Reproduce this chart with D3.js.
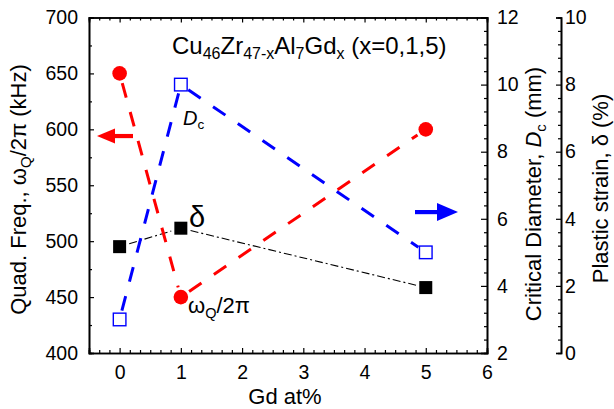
<!DOCTYPE html>
<html><head><meta charset="utf-8">
<script src="https://cdn.jsdelivr.net/npm/d3@7"></script>
<style>
html,body{margin:0;padding:0;background:#fff;}
svg{display:block;font-family:"Liberation Sans",Arial,sans-serif;}
</style></head>
<body>
<svg id="c" width="614" height="409"></svg>
<script>
// ---- data ----
const gd = [0, 1, 5];
const omegaQ = [650, 450, 600];      // kHz, left axis
const dc = [3, 10, 5];               // mm, Dc axis
const delta = [3.17, 3.72, 1.95];    // %, plastic strain axis
const xTicks = [0, 1, 2, 3, 4, 5, 6];
const yLeftTicks = [400, 450, 500, 550, 600, 650, 700];
const yDcTicks = [2, 4, 6, 8, 10, 12];
const yDeltaTicks = [0, 2, 4, 6, 8, 10];

const svg = d3.select("#c");
const L = 89, R = 487, T = 17.5, B = 353, A3 = 561;

const x = d3.scaleLinear().domain([-0.5, 6]).range([L, R]);
const yL = d3.scaleLinear().domain([400, 700]).range([B, T]);
const yD = d3.scaleLinear().domain([2, 12]).range([B, T]);
const yS = d3.scaleLinear().domain([0, 10]).range([B, T]);

const fs = 19.5;
const font = "Liberation Sans, Arial, sans-serif";
const minor = (a, b, step) => d3.range(Math.round((b - a) / step) + 1).map(i => a + i * step);
const xMinor = minor(-0.5, 6, 1/6).filter(v => Math.abs(v - Math.round(v)) > 1e-6);
const evenOff = v => Math.abs(v / 2 - Math.round(v / 2)) > 1e-6;

// Bottom axis (ticks inward)
svg.append("g").attr("transform", `translate(0,${B})`)
  .call(d3.axisBottom(x).tickValues(xTicks).tickSize(-5).tickPadding(12).tickFormat(d3.format("d")));
svg.append("g").attr("transform", `translate(0,${B})`)
  .call(d3.axisBottom(x).tickValues(xMinor).tickSize(-3).tickFormat(""));
// Top axis
svg.append("g").attr("transform", `translate(0,${T})`)
  .call(d3.axisTop(x).tickValues(xTicks).tickSize(-5).tickFormat(""));
svg.append("g").attr("transform", `translate(0,${T})`)
  .call(d3.axisTop(x).tickValues(xMinor).tickSize(-3).tickFormat(""));
// Left axis
svg.append("g").attr("transform", `translate(${L},0)`)
  .call(d3.axisLeft(yL).tickValues(yLeftTicks).tickSize(-5).tickPadding(11).tickFormat(d3.format("d")));
svg.append("g").attr("transform", `translate(${L},0)`)
  .call(d3.axisLeft(yL).tickValues([425, 475, 525, 575, 625, 675]).tickSize(-3).tickFormat(""));
// Right axis (Dc)
svg.append("g").attr("transform", `translate(${R},0)`)
  .call(d3.axisRight(yD).tickValues(yDcTicks).tickSize(-6).tickPadding(10).tickFormat(d3.format("d")));
svg.append("g").attr("transform", `translate(${R},0)`)
  .call(d3.axisRight(yD).tickValues(minor(2, 12, 0.4).filter(evenOff)).tickSize(-3).tickFormat(""));
// Third axis (delta)
svg.append("g").attr("transform", `translate(${A3},0)`)
  .call(d3.axisRight(yS).tickValues(yDeltaTicks).tickSize(-5).tickPadding(4).tickFormat(d3.format("d")));
svg.append("g").attr("transform", `translate(${A3},0)`)
  .call(d3.axisRight(yS).tickValues(minor(0, 10, 0.4).filter(evenOff)).tickSize(-3).tickFormat(""));

svg.selectAll(".domain").attr("stroke", "#000").attr("stroke-width", 1.6);
svg.selectAll(".tick line").attr("stroke", "#000").attr("stroke-width", 1.2);
svg.selectAll(".tick text").attr("font-size", fs).attr("fill", "#000").attr("font-family", font);

// ---- connecting segments with gaps to symbols ----
function segs(xs, ys, xsc, ysc, gap) {
  const pts = xs.map((v, i) => [xsc(v), ysc(ys[i])]);
  const out = [];
  for (let i = 0; i < pts.length - 1; i++) {
    const [x0, y0] = pts[i], [x1, y1] = pts[i + 1];
    const dx = x1 - x0, dy = y1 - y0, len = Math.hypot(dx, dy);
    const ux = dx / len, uy = dy / len;
    out.push([[x0 + ux * gap, y0 + uy * gap], [x1 - ux * gap, y1 - uy * gap]]);
  }
  return out;
}
const lineGen = d3.line();
function drawSegs(s, color, w, dash) {
  svg.append("g").selectAll("path").data(s).join("path")
    .attr("d", d => lineGen(d)).attr("fill", "none")
    .attr("stroke", color).attr("stroke-width", w).attr("stroke-dasharray", dash);
}
drawSegs(segs(gd, delta, x, yS, 10), "#000", 1.1, "8,3,2,3");
drawSegs(segs(gd, omegaQ, x, yL, 10), "#ff0000", 3, "15,15");
drawSegs(segs(gd, dc, x, yD, 9), "#0000ff", 3, "15,15");

// ---- markers ----
svg.append("g").selectAll("circle").data(gd).join("circle")
  .attr("cx", d => x(d)).attr("cy", (d, i) => yL(omegaQ[i])).attr("r", 7.3).attr("fill", "#ff0000");
svg.append("g").selectAll("rect").data(gd).join("rect")
  .attr("x", d => x(d) - 6.3).attr("y", (d, i) => yD(dc[i]) - 6.3)
  .attr("width", 12.6).attr("height", 12.6).attr("fill", "#fff")
  .attr("stroke", "#0000ff").attr("stroke-width", 1.4);
svg.append("g").selectAll("rect").data(gd).join("rect")
  .attr("x", d => x(d) - 6.5).attr("y", (d, i) => yS(delta[i]) - 6.5)
  .attr("width", 13).attr("height", 13).attr("fill", "#000");

// ---- arrows ----
function arrow(x0, x1, y, color, headLen, headHalf) {
  const dir = Math.sign(x1 - x0);
  const xb = x1 - dir * headLen;
  svg.append("line").attr("x1", x0).attr("x2", xb).attr("y1", y).attr("y2", y)
    .attr("stroke", color).attr("stroke-width", 4.2);
  svg.append("path").attr("d", `M${x1},${y}L${xb},${y - headHalf}L${xb},${y + headHalf}Z`).attr("fill", color);
}
arrow(133, 97, yL(594), "#ff0000", 18, 7.5);
arrow(415, 458, yD(6.2), "#0000ff", 21, 9);

// ---- rich text helper (subscripts / italics) ----
function rich(sel, parts, subSize, shift) {
  let cur = 0;
  parts.forEach(p => {
    const t = sel.append("tspan").text(p.t);
    const target = p.sub ? shift : 0;
    if (target !== cur) { t.attr("dy", target - cur); cur = target; }
    if (p.sub) t.attr("font-size", subSize);
    if (p.it) t.attr("font-style", "italic");
  });
}

// title
const title = svg.append("text").attr("x", 172).attr("y", 54).attr("font-size", 24).attr("font-family", font);
rich(title, [{t: "Cu"}, {t: "46", sub: 1}, {t: "Zr"}, {t: "47-x", sub: 1}, {t: "Al"}, {t: "7", sub: 1},
  {t: "Gd"}, {t: "x", sub: 1}, {t: " (x=0,1,5)"}], 16, 5);

// Dc label
const dcl = svg.append("text").attr("x", 183).attr("y", 125).attr("font-size", 20).attr("font-family", font);
rich(dcl, [{t: "D", it: 1}, {t: "c", sub: 1}], 13.5, 4);

// delta label
svg.append("text").attr("x", 189).attr("y", 226.5).attr("font-size", 29).attr("font-family", font).text("δ");

// omega label
const oml = svg.append("text").attr("x", 188).attr("y", 313).attr("font-size", 22).attr("font-family", font);
rich(oml, [{t: "ω"}, {t: "Q", sub: 1}, {t: "/2π"}], 14.5, 5);

// axis titles
svg.append("text").attr("x", 285).attr("y", 404).attr("text-anchor", "middle")
  .attr("font-size", 22).attr("font-family", font).text("Gd at%");

const yt = svg.append("text").attr("transform", `translate(26,189.5) rotate(-90)`).attr("text-anchor", "middle")
  .attr("font-size", 22).attr("font-family", font);
rich(yt, [{t: "Quad. Freq., ω"}, {t: "Q", sub: 1}, {t: "/2π (kHz)"}], 15, 5);

const dt = svg.append("text").attr("transform", `translate(541,194) rotate(-90)`).attr("text-anchor", "middle")
  .attr("font-size", 22).attr("font-family", font);
rich(dt, [{t: "Critical Diameter, "}, {t: "D", it: 1}, {t: "c", sub: 1}, {t: " (mm)"}], 15, 5);

svg.append("text").attr("transform", `translate(607.5,188.5) rotate(-90)`).attr("text-anchor", "middle")
  .attr("font-size", 22).attr("font-family", font).text("Plastic strain,  δ (%)");
</script>
</body></html>
